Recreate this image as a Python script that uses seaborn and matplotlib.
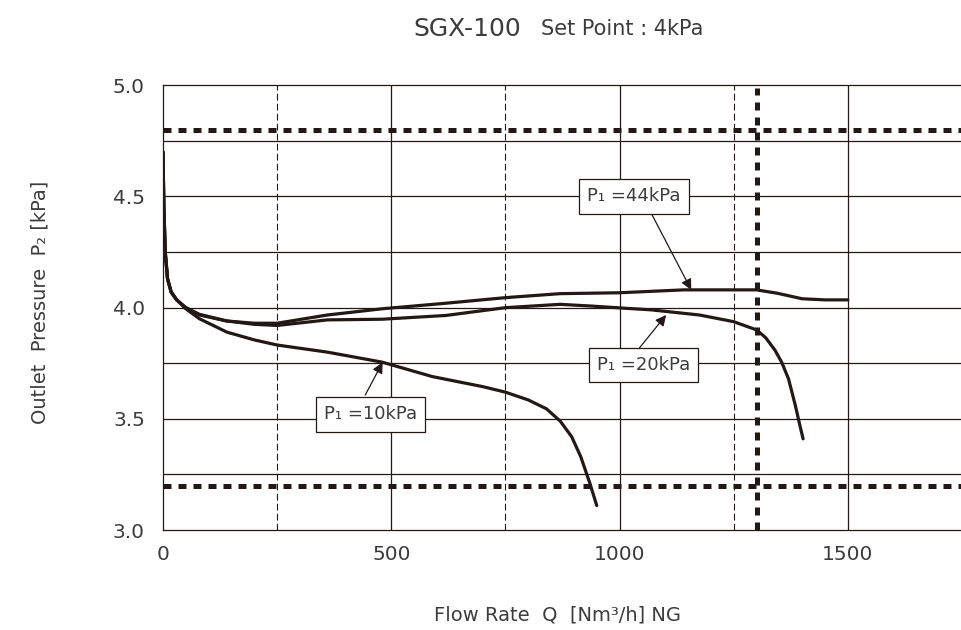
import matplotlib
matplotlib.use("Agg")
import matplotlib.pyplot as plt
import seaborn as sns
import pandas as pd

# flow rate [Nm3/h] vs outlet pressure [kPa]
q_10 = [0, 2, 5, 10, 18, 30, 50, 80, 140, 200, 250, 360, 480, 590, 700, 750, 800, 840, 870, 895, 915, 935, 950]
p_10 = [4.70, 4.45, 4.25, 4.13, 4.07, 4.035, 3.995, 3.95, 3.89, 3.855, 3.832, 3.80, 3.755, 3.69, 3.645, 3.62, 3.585, 3.545, 3.49, 3.42, 3.33, 3.21, 3.11]

q_20 = [0, 2, 5, 10, 18, 30, 50, 80, 140, 200, 250, 360, 480, 620, 750, 870, 940, 1015, 1070, 1175, 1250, 1300, 1320, 1340, 1355, 1370, 1385, 1395, 1402]
p_20 = [4.70, 4.45, 4.25, 4.13, 4.07, 4.035, 4.0, 3.967, 3.94, 3.925, 3.92, 3.945, 3.948, 3.965, 4.0, 4.015, 4.007, 3.997, 3.99, 3.967, 3.937, 3.90, 3.865, 3.81, 3.755, 3.68, 3.56, 3.47, 3.41]

q_44 = [0, 2, 5, 10, 18, 30, 50, 80, 140, 200, 250, 360, 480, 620, 750, 870, 1000, 1140, 1300, 1345, 1400, 1450, 1500]
p_44 = [4.70, 4.45, 4.25, 4.13, 4.07, 4.035, 4.0, 3.97, 3.94, 3.93, 3.93, 3.967, 3.995, 4.02, 4.045, 4.063, 4.067, 4.08, 4.08, 4.065, 4.04, 4.035, 4.035]

series_labels = ["P₁ =10kPa", "P₁ =20kPa", "P₁ =44kPa"]
# label box centre, arrow tip, arrow tail (data coords)
label_pos = [(454, 3.52), (1052, 3.742), (1032, 4.50)]
arrow_tip = [(481, 3.754), (1102, 3.967), (1157, 4.08)]
arrow_tail = [(443, 3.607), (1044, 3.82), (1068, 4.43)]

limit_p = [3.2, 4.8]
limit_q = 1300

x_ticks = [0, 500, 1000, 1500]
y_ticks = [3.0, 3.5, 4.0, 4.5, 5.0]

ink = "#231815"
txt = "#3c3c3c"

sns.set_style("white")
plt.rcParams["font.family"] = ["DejaVu Sans"]

df = pd.concat([
    pd.DataFrame({"q": q_10, "p": p_10, "s": series_labels[0]}),
    pd.DataFrame({"q": q_20, "p": p_20, "s": series_labels[1]}),
    pd.DataFrame({"q": q_44, "p": p_44, "s": series_labels[2]}),
])

fig = plt.figure(figsize=(9.62, 6.3), dpi=100)
ax = fig.add_axes([0.1694, 0.1587, 0.8306, 0.7059])

ax.set_xlim(0, 1750)
ax.set_ylim(3.0, 5.0)

# grid
for yv in [3.25, 3.5, 3.75, 4.0, 4.25, 4.5, 4.75]:
    ax.axhline(yv, color=ink, lw=0.9, zorder=1)
for xv in [500, 1000, 1500]:
    ax.axvline(xv, color=ink, lw=0.9, zorder=1)
for xv in [250, 750, 1250]:
    ax.axvline(xv, color=ink, lw=0.8, ls=(0, (6, 3)), zorder=1)

# limits
for yv in limit_p:
    ax.axhline(yv, color=ink, lw=3.6, ls=(0, (1.6, 1.4)), zorder=2)
ax.axvline(limit_q, ymax=0.993, color=ink, lw=3.6, ls=(0, (1.6, 1.4)), zorder=2)

for s in series_labels:
    d = df[df["s"] == s]
    sns.lineplot(data=d, x="q", y="p", ax=ax, color=ink, lw=2.3,
                 estimator=None, sort=False, zorder=3, legend=False)

for lab, pos, tip, tail in zip(series_labels, label_pos, arrow_tip, arrow_tail):
    ax.annotate("", xy=tip, xytext=tail,
                arrowprops=dict(arrowstyle="-|>", color=ink, lw=0.9,
                                mutation_scale=16, shrinkA=0, shrinkB=0), zorder=4)
    ax.text(pos[0], pos[1], lab, ha="center", va="center", fontsize=13, color=txt,
            zorder=5,
            bbox=dict(boxstyle="square,pad=0.45", fc="white", ec=ink, lw=0.9))

for sp in ["left", "bottom", "top"]:
    ax.spines[sp].set_color(ink)
    ax.spines[sp].set_linewidth(0.9)
ax.spines["right"].set_visible(False)

ax.set_xticks(x_ticks)
ax.set_yticks(y_ticks)
ax.set_xticklabels([str(v) for v in x_ticks])
ax.set_yticklabels([f"{v:.1f}" for v in y_ticks])
ax.tick_params(length=0, labelsize=14.5, labelcolor=txt)
ax.tick_params(axis="y", pad=13)
ax.tick_params(axis="x", pad=11)
ax.set_xlabel("")
ax.set_ylabel("")

fig.text(0.58, 0.024, "Flow Rate  Q  [Nm³/h] NG", ha="center", va="center",
         fontsize=14, color=txt)
fig.text(0.0416, 0.52, "Outlet  Pressure  P₂ [kPa]", ha="center", va="center",
         rotation=90, fontsize=14, color=txt)

fig.text(0.5416, 0.954, "SGX-100", ha="right", va="center", fontsize=18, color=txt)
fig.text(0.5624, 0.954, "Set Point : 4kPa", ha="left", va="center", fontsize=15, color=txt)

fig.savefig("out.png", dpi=100)
